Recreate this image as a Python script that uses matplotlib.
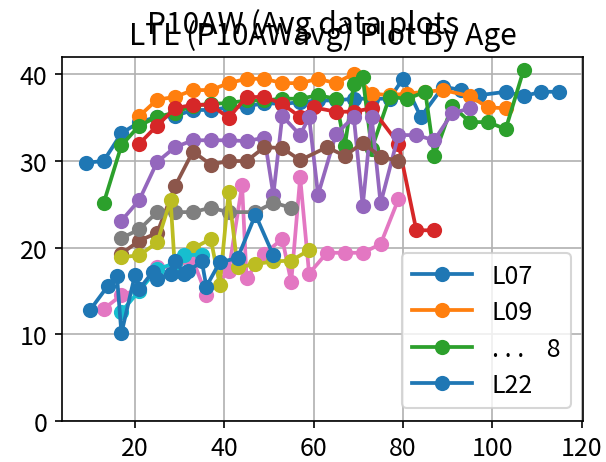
import numpy as np
import matplotlib
matplotlib.use("Agg")
import matplotlib.pyplot as plt

plt.rcParams["font.family"] = ["Noto Sans CJK JP", "DejaVu Sans"]
plt.rcParams["font.size"] = 12

# ── data (age, P10AW avg) per lot ─────────────────────────────────────────────
x_l07 = [9, 13, 17, 21, 25, 29, 33, 37, 41, 45, 49, 53, 57, 61, 65, 69, 73, 77,
         80, 84, 89, 93, 97, 103, 107, 111, 115]
y_l07 = [29.8, 30.0, 33.2, 34.5, 35.1, 35.2, 35.9, 35.9, 36.2, 36.3, 36.7, 36.6,
         36.8, 37.0, 37.0, 37.2, 37.2, 37.2, 39.5, 35.1, 38.6, 38.2, 37.6, 38.0,
         37.5, 38.0, 38.0]

x_l09 = [21, 25, 29, 33, 37, 41, 45, 49, 53, 57, 61, 65, 69, 73, 77, 81, 85, 89,
         95, 99, 103]
y_l09 = [35.2, 37.1, 37.4, 38.2, 38.2, 39.0, 39.5, 39.5, 39.0, 39.0, 39.5, 39.0,
         40.1, 37.8, 37.6, 37.8, 38.0, 38.2, 37.5, 36.2, 36.1]

x_s3 = [13, 17, 21, 25, 29, 33, 37, 41, 45, 49, 53, 57, 61, 65, 67, 69, 71, 73,
        77, 81, 85, 87, 91, 95, 99, 103, 107]
y_s3 = [25.1, 31.8, 34.1, 35.1, 35.6, 36.4, 36.6, 36.7, 37.0, 37.0, 37.2, 37.2,
        37.6, 37.2, 31.7, 38.9, 39.7, 31.4, 37.4, 37.2, 38.0, 30.6, 36.4, 34.5,
        34.5, 33.7, 40.5]

x_s4 = [21, 25, 29, 33, 37, 41, 45, 49, 53, 57, 60, 65, 69, 73, 79, 83, 87]
y_s4 = [32.0, 34.1, 36.1, 36.5, 36.5, 35.0, 37.4, 37.4, 36.6, 35.1, 36.2, 35.7,
        35.7, 36.1, 32.0, 22.0, 22.0]

x_s5 = [17, 21, 25, 29, 33, 37, 41, 45, 49, 51, 53, 57, 59, 61, 65, 69, 71, 73,
        75, 79, 83, 87, 91, 95]
y_s5 = [23.1, 25.5, 29.9, 31.6, 32.4, 32.4, 32.4, 32.3, 32.7, 26.1, 35.2, 33.0,
        35.1, 26.1, 33.1, 35.1, 24.8, 35.1, 25.1, 33.0, 33.0, 32.4, 35.5, 36.1]

x_s6 = [17, 21, 25, 29, 33, 37, 41, 45, 49, 53, 57, 63, 67, 71, 75, 79]
y_s6 = [19.3, 20.8, 21.7, 27.1, 31.1, 29.6, 30.0, 30.0, 31.6, 31.5, 30.1, 31.6,
        30.6, 32.1, 30.5, 30.0]

x_s7 = [13, 17, 21, 25, 29, 33, 36, 41, 44, 45, 49, 53, 55, 57, 59, 63, 67, 71,
        75, 79]
y_s7 = [12.9, 14.5, 15.2, 17.7, 17.8, 18.6, 14.5, 17.3, 27.2, 16.5, 19.3, 21.0,
        16.0, 28.1, 17.0, 19.4, 19.4, 19.4, 20.4, 25.6]

x_s8 = [17, 21, 25, 29, 33, 37, 41, 47, 51, 55]
y_s8 = [21.1, 22.1, 24.1, 24.1, 24.1, 24.6, 24.1, 24.1, 25.2, 24.6]

x_s9 = [17, 21, 25, 28, 29, 33, 37, 39, 41, 43, 47, 51, 55, 59]
y_s9 = [18.9, 19.1, 20.6, 25.5, 17.3, 19.9, 21.0, 15.7, 26.4, 17.7, 18.1, 18.4,
        18.5, 19.7]

x_s10 = [17, 21, 25, 29, 31, 35]
y_s10 = [12.6, 15.0, 17.5, 18.2, 19.1, 19.2]

x_l22 = [10, 14, 16, 17, 20, 21, 24, 25, 28, 29, 31, 32, 35, 36, 39, 43, 47, 51]
y_l22 = [12.8, 15.6, 16.7, 10.1, 16.8, 15.2, 17.2, 16.4, 17.0, 18.5, 17.0, 17.3,
         18.4, 15.5, 18.3, 18.8, 23.8, 19.1]

legend_labels = ["L07", "L09", ". . .    8", "L22"]

series = [(x_l07, y_l07), (x_l09, y_l09), (x_s3, y_s3), (x_s4, y_s4),
          (x_s5, y_s5), (x_s6, y_s6), (x_s7, y_s7), (x_s8, y_s8),
          (x_s9, y_s9), (x_s10, y_s10), (x_l22, y_l22)]

# ── plot ──────────────────────────────────────────────────────────────────────
fig = plt.figure(figsize=(606 / 150, 463 / 150), dpi=150)
ax = fig.add_axes([62 / 606, 41.3 / 463, 521 / 606, 363.7 / 463])

lines = []
for xs, ys in series:
    ln, = ax.plot(xs, ys, marker="o", lw=1.8, markersize=6.3)
    lines.append(ln)

ax.set_ylim(bottom=0)
ax.grid(True)

ax.legend([lines[0], lines[1], lines[2], lines[-1]], legend_labels,
          loc="lower right", handlelength=2.4, labelspacing=0.42)

ax.set_title("LTL (P10AWavg) Plot By Age")
fig.suptitle("P10AW (Avg data plots")

fig.savefig("out.png", dpi=150)
